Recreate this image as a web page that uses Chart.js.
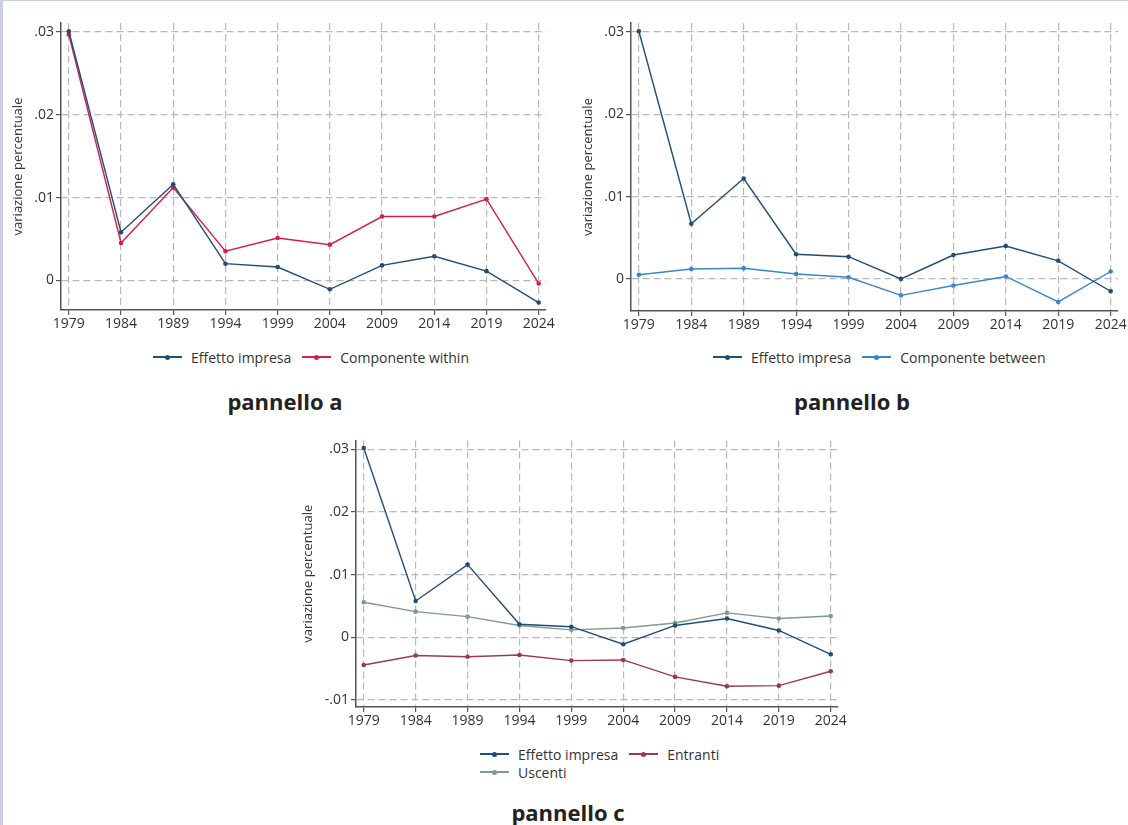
<!DOCTYPE html>
<html lang="it">
<head>
<meta charset="utf-8">
<title>Effetto impresa - scomposizione</title>
<script src="https://cdn.jsdelivr.net/npm/chart.js@4.4.1/dist/chart.umd.min.js"></script>
<style>
  body { margin: 0; background: #fff; font-family: "Open Sans", sans-serif; }
  #page { position: relative; width: 1128px; height: 825px; overflow: hidden; }
  .edge-left { position: absolute; left: 0; top: 0; width: 3px; height: 825px; background: #c9cee6; }
  .edge-top { position: absolute; left: 0; top: 0; width: 1128px; height: 1px; background: #c4cadf; }
  canvas { position: absolute; }
  .legend { position: absolute; font-size: 14px; color: #333; }
  .legend .row { display: flex; align-items: center; height: 18px; }
  .legend .item { display: flex; align-items: center; margin-right: 11px; }
  .legend .sym { position: relative; width: 29px; height: 1.5px; margin-right: 9px; }
  .legend .dot { position: absolute; left: 12px; top: -1.75px; width: 5px; height: 5px; border-radius: 50%; }
  .title { position: absolute; font-size: 22px; font-weight: 700; color: #222; transform: translateX(-50%); white-space: nowrap; }
</style>
</head>
<body>
<div id="page">
  <div class="edge-left"></div>
  <div class="edge-top"></div>
  <canvas id="chartA" width="560" height="340" style="left:0;top:0"></canvas>
  <canvas id="chartB" width="558" height="340" style="left:570px;top:0"></canvas>
  <canvas id="chartC" width="560" height="310" style="left:290px;top:430px"></canvas>
  <div class="legend" id="legendA" style="left:153px;top:348px"></div>
  <div class="legend" id="legendB" style="left:713px;top:348px"></div>
  <div class="legend" id="legendC" style="left:480px;top:745px"></div>
  <div class="title" style="left:285px;top:386px">pannello a</div>
  <div class="title" style="left:852px;top:386px">pannello b</div>
  <div class="title" style="left:568px;top:797px">pannello c</div>
</div>
<script>
const years = [1979, 1984, 1989, 1994, 1999, 2004, 2009, 2014, 2019, 2024];

// pannello a
const effettoA = [0.0301, 0.0058, 0.0116, 0.0020, 0.0016, -0.0011, 0.0018, 0.0029, 0.0011, -0.0027];
const within = [0.0297, 0.0045, 0.0112, 0.0035, 0.0051, 0.0043, 0.0077, 0.0077, 0.0098, -0.0004];

// pannello b
const effettoB = [0.0301, 0.0067, 0.0122, 0.0030, 0.0027, 0.0000, 0.0029, 0.0040, 0.0022, -0.0015];
const between = [0.0005, 0.0012, 0.0013, 0.0006, 0.0002, -0.0020, -0.0008, 0.0003, -0.0028, 0.0009];

// pannello c
const effettoC = [0.0302, 0.0058, 0.0116, 0.0021, 0.0017, -0.0011, 0.0019, 0.0030, 0.0011, -0.0027];
const entranti = [-0.0044, -0.0029, -0.0031, -0.0028, -0.0037, -0.0036, -0.0063, -0.0078, -0.0077, -0.0054];
const uscenti = [0.0056, 0.0041, 0.0033, 0.0019, 0.0012, 0.0015, 0.0023, 0.0039, 0.0030, 0.0034];

const yTicksAB = [0, 0.01, 0.02, 0.03];
const yTicksC = [-0.01, 0, 0.01, 0.02, 0.03];

const DARK_BLUE = "#1f4e79";
const RED = "#d3204a";
const LIGHT_BLUE = "#3a86cb";
const DARK_RED = "#9c3a4b";
const GREY_GREEN = "#7c9d8d";

Chart.defaults.font.family = "'Open Sans', sans-serif";

function fmtTick(v) {
  if (Math.abs(v) < 1e-9) return "0";
  return v.toFixed(2).replace("0.", ".");
}

function series(label, values, color) {
  return {
    label,
    data: values.map((v, i) => ({ x: years[i], y: v })),
    borderColor: color,
    backgroundColor: color,
    borderWidth: 1.4,
    pointRadius: 2.3,
    pointBorderWidth: 0,
    tension: 0,
  };
}

function makeConfig(datasets, opts) {
  return {
    type: "line",
    data: { datasets },
    options: {
      responsive: false,
      animation: false,
      layout: { padding: { top: opts.top, right: opts.right, left: 0, bottom: 0 } },
      scales: {
        x: {
          type: "linear",
          min: 1978.25,
          max: 2024.7,
          afterBuildTicks: (s) => { s.ticks = years.map((v) => ({ value: v })); },
          afterFit: (s) => { s.height = opts.xHeight; },
          ticks: { callback: (v) => String(v), font: { size: 14 }, color: "#333", padding: 1, maxRotation: 0, autoSkip: false },
          grid: { color: "#b8b8b8", lineWidth: 1.2, tickColor: "#555", tickLength: 5, tickWidth: 1.2, tickBorderDash: [] },
          border: { color: "#555", width: 1.5, dash: [7, 4] },
        },
        y: {
          min: opts.yMin,
          max: opts.yMax,
          afterBuildTicks: (s) => { s.ticks = opts.yTicks.map((v) => ({ value: v })); },
          afterFit: (s) => { s.width = opts.yWidth; },
          ticks: { callback: fmtTick, font: { size: 14 }, color: "#333", padding: 2 },
          grid: { color: "#b8b8b8", lineWidth: 1.2, tickColor: "#555", tickLength: 5, tickWidth: 1.2, tickBorderDash: [] },
          border: { color: "#555", width: 1.5, dash: [7, 4] },
          title: {
            display: true,
            text: "variazione percentuale",
            font: { size: 13 },
            color: "#333",
            padding: { top: 10, bottom: 0 },
          },
        },
      },
      plugins: {
        legend: { display: false },
        tooltip: { enabled: false },
      },
    },
  };
}

function buildLegend(selector, chart, rows) {
  const box = document.querySelector(selector);
  rows.forEach((row) => {
    const r = document.createElement("div");
    r.className = "row";
    row.forEach((idx) => {
      const ds = chart.data.datasets[idx];
      const item = document.createElement("div");
      item.className = "item";
      const sym = document.createElement("span");
      sym.className = "sym";
      sym.style.background = ds.borderColor;
      const dot = document.createElement("span");
      dot.className = "dot";
      dot.style.background = ds.borderColor;
      sym.appendChild(dot);
      const txt = document.createElement("span");
      txt.textContent = ds.label;
      item.appendChild(sym);
      item.appendChild(txt);
      r.appendChild(item);
    });
    box.appendChild(r);
  });
}

function createChart(selector, config) {
  return new Chart(document.querySelector(selector), config);
}

const chartA = createChart("#chartA", makeConfig(
  [series("Effetto impresa", effettoA, DARK_BLUE), series("Componente within", within, RED)],
  { top: 23, right: 14, xHeight: 30, yWidth: 61, yMin: -0.0036, yMax: 0.0311, yTicks: yTicksAB }
));

const chartB = createChart("#chartB", makeConfig(
  [series("Effetto impresa", effettoB, DARK_BLUE), series("Componente between", between, LIGHT_BLUE)],
  { top: 23, right: 10, xHeight: 29, yWidth: 61, yMin: -0.0039, yMax: 0.0311, yTicks: yTicksAB }
));

const chartC = createChart("#chartC", makeConfig(
  [series("Effetto impresa", effettoC, DARK_BLUE), series("Entranti", entranti, DARK_RED), series("Uscenti", uscenti, GREY_GREEN)],
  { top: 8, right: 12, xHeight: 33, yWidth: 66, yMin: -0.0111, yMax: 0.0314, yTicks: yTicksC }
));

buildLegend("#legendA", chartA, [[0, 1]]);
buildLegend("#legendB", chartB, [[0, 1]]);
buildLegend("#legendC", chartC, [[0, 1], [2]]);
</script>
</body>
</html>
